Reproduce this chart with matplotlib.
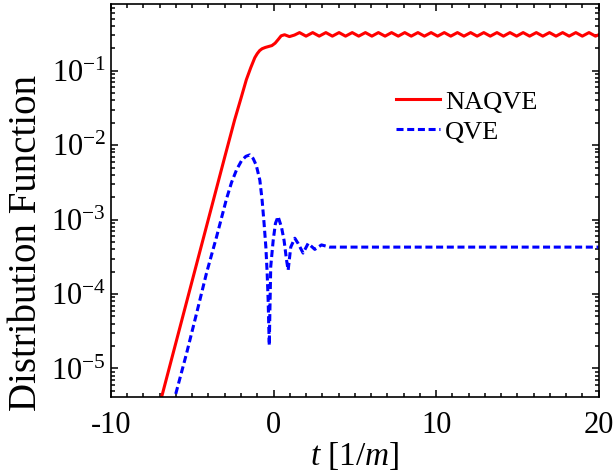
import matplotlib
matplotlib.use("Agg")
import matplotlib.pyplot as plt
from matplotlib.ticker import LogLocator, MultipleLocator, NullFormatter

plt.rcParams["font.family"] = "Liberation Serif"
plt.rcParams["mathtext.fontset"] = "custom"
plt.rcParams["mathtext.rm"] = "Liberation Serif"
plt.rcParams["mathtext.it"] = "Liberation Serif:italic"
plt.rcParams["axes.unicode_minus"] = False

# NAQVE (red, solid)
t_naqve = [-7.5, -5.0, -3.0, -2.39, -2.0, -1.67, -1.4, -1.15, -1.0, -0.85,
           -0.7, -0.5, -0.3, -0.1, 0.1, 0.3, 0.47, 0.68, 0.98, 1.29,
           1.60, 2.00, 2.41, 2.81, 3.22, 3.62, 4.03, 4.43, 4.84, 5.24,
           5.65, 6.05, 6.45, 6.86, 7.26, 7.67, 8.07, 8.47, 8.88, 9.28,
           9.69, 10.09, 10.50, 10.90, 11.31, 11.71, 12.12, 12.52, 12.93, 13.33,
           13.74, 14.14, 14.54, 14.95, 15.35, 15.75, 16.16, 16.56, 16.97, 17.37,
           17.78, 18.18, 18.59, 18.99, 19.40, 19.80, 20.0]
f_naqve = [1.26e-6, 1.51e-4, 6.92e-3, 0.0219, 0.0427, 0.0759, 0.110, 0.150, 0.170, 0.187,
           0.198, 0.206, 0.212, 0.218, 0.235, 0.265, 0.295, 0.305, 0.288, 0.302,
           0.326, 0.292, 0.326, 0.292, 0.326, 0.292, 0.326, 0.292, 0.326, 0.292,
           0.326, 0.292, 0.326, 0.292, 0.326, 0.292, 0.326, 0.292, 0.326, 0.292,
           0.326, 0.292, 0.326, 0.292, 0.326, 0.292, 0.326, 0.292, 0.326, 0.292,
           0.326, 0.292, 0.326, 0.292, 0.326, 0.292, 0.326, 0.292, 0.326, 0.292,
           0.326, 0.292, 0.326, 0.292, 0.326, 0.292, 0.305]

# QVE (blue, dashed)
t_qve = [-6.5, -6.07, -5.35, -4.73, -4.12, -3.50, -2.89, -2.58, -2.27, -1.97,
         -1.70, -1.46, -1.25, -1.06, -0.84, -0.70, -0.58, -0.47, -0.39, -0.33,
         -0.29, -0.26, -0.22, -0.17, -0.02, 0.12, 0.28, 0.49, 0.65, 0.80,
         0.90, 1.06, 1.31, 1.51, 1.82, 2.13, 2.54, 2.95, 3.46, 20.0]
f_qve = [1.74e-6, 4.07e-6, 1.58e-5, 5.50e-5, 1.91e-4, 5.89e-4, 1.90e-3, 3.16e-3, 4.68e-3, 6.17e-3,
         7.08e-3, 7.41e-3, 6.61e-3, 5.37e-3, 3.39e-3, 1.82e-3, 8.91e-4, 4.27e-4, 1.91e-4, 8.32e-5,
         3.63e-5, 2.04e-5, 6.3e-5, 2.34e-4, 5.25e-4, 8.91e-4, 1.10e-3, 7.94e-4, 5.25e-4, 2.88e-4,
         2.09e-4, 4.27e-4, 5.62e-4, 4.79e-4, 3.55e-4, 4.79e-4, 3.98e-4, 4.57e-4, 4.27e-4, 4.27e-4]

fig = plt.figure(figsize=(6.16, 4.74), dpi=100)
ax = fig.add_axes([0.180, 0.1614, 0.792, 0.8302])

ax.plot(t_naqve, f_naqve, color="red", linewidth=2.2, label="NAQVE")
ax.plot(t_qve, f_qve, color="blue", linewidth=2.2, linestyle=(0, (2.3, 1.2)), label="QVE")

ax.set_yscale("log")
ax.set_xlim(-10, 20)
ax.set_ylim(4.07e-6, 0.79)

ax.xaxis.set_major_locator(MultipleLocator(10))
ax.xaxis.set_minor_locator(MultipleLocator(1))
ax.yaxis.set_major_locator(LogLocator(base=10, numticks=20))
ax.yaxis.set_minor_locator(LogLocator(base=10, subs=range(2, 10), numticks=20))
ax.yaxis.set_minor_formatter(NullFormatter())

ax.tick_params(which="both", direction="in", top=True, right=True, width=1.1, labelsize=22)
ax.tick_params(which="major", length=5)
ax.tick_params(which="minor", length=3)
ax.tick_params(axis="x", pad=10)
for s in ax.spines.values():
    s.set_linewidth(1.2)

ax.set_xlabel(r"$t$ [1/$m$]", fontsize=24, labelpad=0)
ax.set_ylabel("Distribution Function", fontsize=28)
ax.yaxis.set_label_coords(-0.136, 0.394)

ax.legend(loc="upper left", bbox_to_anchor=(0.643, 0.81), bbox_transform=fig.transFigure,
          frameon=False, fontsize=19, handlelength=1.65, handletextpad=0.2,
          labelspacing=0.25, borderpad=0, borderaxespad=0)

fig.savefig("out.png", dpi=100)
